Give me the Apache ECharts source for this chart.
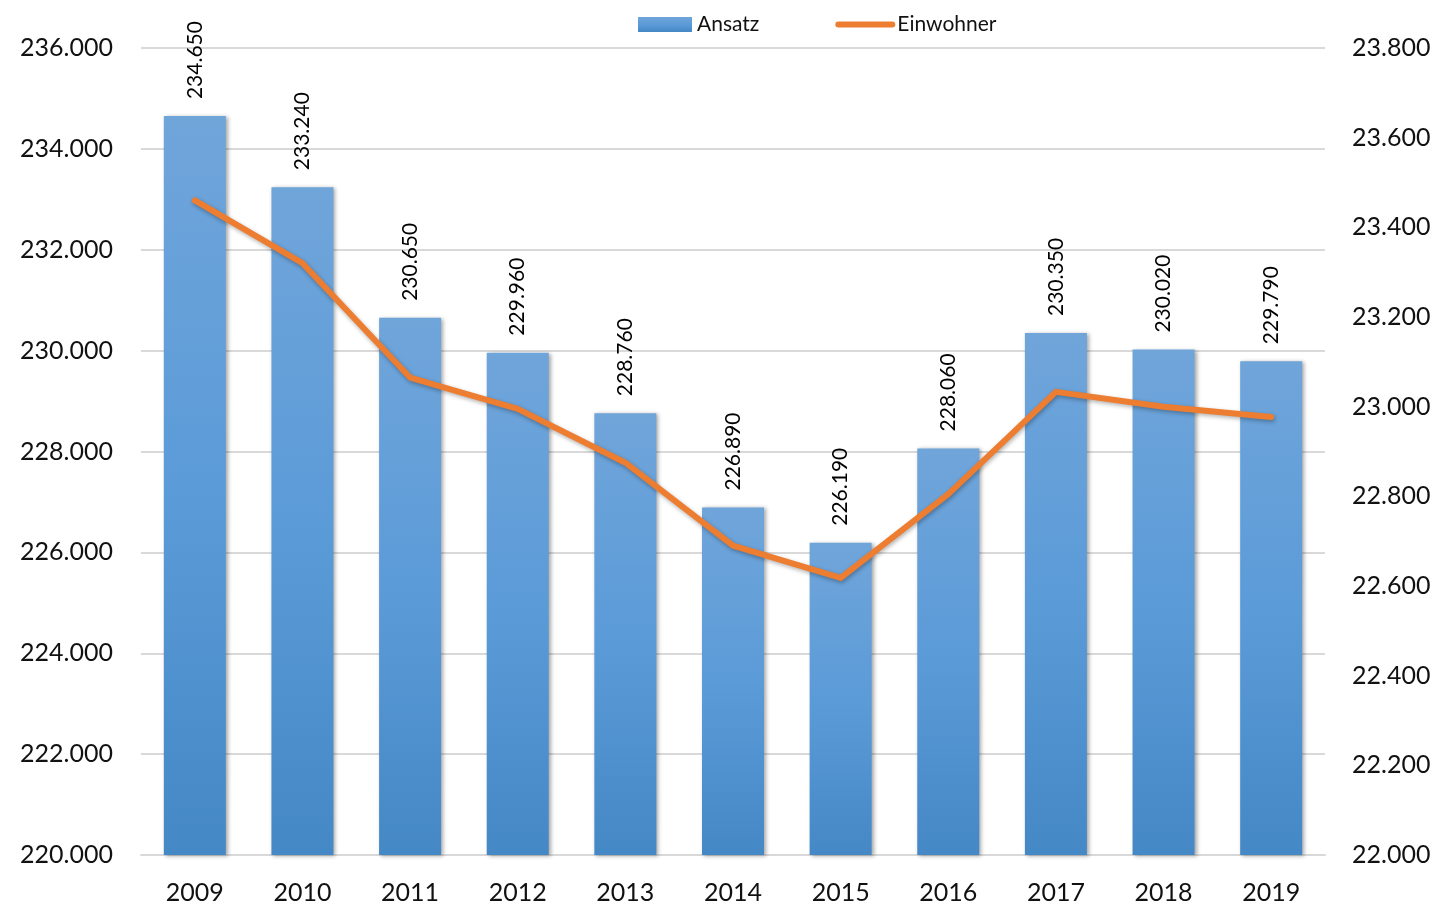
<!DOCTYPE html>
<html>
<head>
<meta charset="utf-8">
<script src="https://cdn.jsdelivr.net/npm/echarts@6/dist/echarts.min.js"></script>
<style>
  html, body { margin: 0; padding: 0; background: #fff; }
  #main { width: 1439px; height: 907px; }
</style>
</head>
<body>
<div id="main"></div>
<script>
// Daten
var years = ['2009', '2010', '2011', '2012', '2013', '2014', '2015', '2016', '2017', '2018', '2019'];
var ansatz = [234650, 233240, 230650, 229960, 228760, 226890, 226190, 228060, 230350, 230020, 229790];
var einwohner = [23460, 23320, 23065, 22995, 22875, 22690, 22618, 22805, 23033, 23000, 22977];

// 236000 -> "236.000"
function fmt(v) {
    return String(Math.round(v)).replace(/\B(?=(\d{3})+(?!\d))/g, '.');
}

var myChart = echarts.init(document.getElementById('main'));

var option = {
    animation: false,
    legend: {
        top: 9,
        left: 633,
        itemWidth: 54,
        itemHeight: 15,
        itemGap: 76,
        textStyle: { fontFamily: 'Lato', fontSize: 21, color: '#111' },
        data: [
            { name: 'Ansatz', icon: 'rect' },
            { name: 'Einwohner', itemStyle: { opacity: 0 }, lineStyle: { width: 6, cap: 'round', shadowBlur: 0 } }
        ]
    },
    grid: {
        left: 141,
        right: 114,
        top: 48,
        bottom: 52
    },
    xAxis: {
        type: 'category',
        data: years,
        axisLine: { lineStyle: { color: '#d9d9d9', width: 2 } },
        axisTick: { show: false },
        axisLabel: { fontFamily: 'Lato', fontSize: 25, color: '#111', margin: 25 }
    },
    yAxis: [{
        type: 'value',
        min: 220000,
        max: 236000,
        interval: 2000,
        axisLine: { show: false },
        axisTick: { show: false },
        splitLine: { lineStyle: { color: '#d9d9d9', width: 2 } },
        axisLabel: { fontFamily: 'Lato', fontSize: 25, color: '#111', margin: 28, formatter: fmt }
    }, {
        type: 'value',
        min: 22000,
        max: 23800,
        interval: 200,
        axisLine: { show: false },
        axisTick: { show: false },
        splitLine: { show: false },
        axisLabel: { fontFamily: 'Lato', fontSize: 25, color: '#111', margin: 27, formatter: fmt }
    }],
    series: [{
        name: 'Ansatz',
        type: 'bar',
        data: ansatz,
        barWidth: 62,
        itemStyle: {
            color: new echarts.graphic.LinearGradient(0, 0, 0, 1, [
                { offset: 0, color: '#70a5da' },
                { offset: 0.5, color: '#5b9bd8' },
                { offset: 1, color: '#4588c6' }
            ]),
            shadowColor: 'rgba(0,0,0,0.35)',
            shadowBlur: 4,
            shadowOffsetX: 2,
            shadowOffsetY: 1
        },
        label: {
            show: true,
            position: 'top',
            rotate: 90,
            align: 'left',
            verticalAlign: 'middle',
            distance: 17,
            fontFamily: 'Lato',
            fontSize: 21,
            color: '#000',
            formatter: function (p) { return fmt(p.value); }
        }
    }, {
        name: 'Einwohner',
        type: 'line',
        yAxisIndex: 1,
        data: einwohner,
        symbol: 'none',
        lineStyle: {
            color: '#ed7d31',
            width: 6,
            cap: 'round',
            join: 'round',
            shadowColor: 'rgba(0,0,0,0.3)',
            shadowBlur: 4,
            shadowOffsetX: 1,
            shadowOffsetY: 2
        },
        itemStyle: { color: '#ed7d31' }
    }]
};

myChart.setOption(option);
</script>
</body>
</html>
